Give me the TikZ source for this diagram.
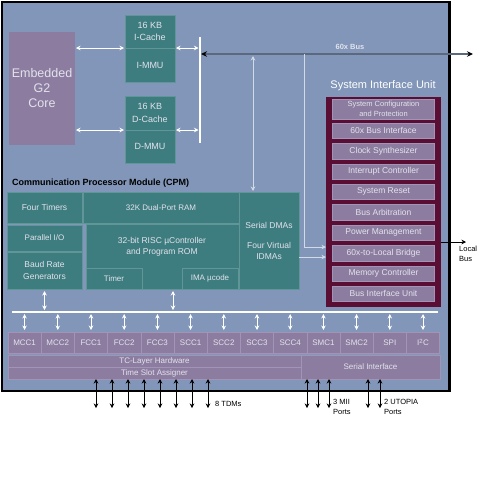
\documentclass[tikz,border=0pt]{standalone}
\usepackage{fontspec}
\setmainfont{Liberation Sans}
\usetikzlibrary{positioning,arrows.meta}
\definecolor{bgblue}{RGB}{129,150,184}
\definecolor{tealfill}{RGB}{62,125,127}
\definecolor{tealedge}{RGB}{96,150,152}
\definecolor{mauvefill}{RGB}{140,125,160}
\definecolor{mauveedge}{RGB}{162,148,182}
\definecolor{siured}{RGB}{90,14,52}
\definecolor{boxtext}{RGB}{226,226,236}
\definecolor{busgray}{RGB}{92,104,126}
\definecolor{pale}{RGB}{210,218,232}

\begin{document}
\begin{tikzpicture}[x=1pt,y=-1pt,>={Stealth[length=4.5pt,width=4.5pt]},
  blk/.style={anchor=north west,inner sep=0pt,outer sep=0pt,align=center,text=boxtext,font=\fontsize{8}{9.5}\selectfont},
  teal box/.style={blk,draw=tealedge,fill=tealfill},
  mauve box/.style={blk,draw=mauveedge,fill=mauvefill},
  siu item/.style={mauve box,anchor=north,minimum width=102,minimum height=15.4,font=\fontsize{8.5}{10}\selectfont},
  wire/.style={<->,white,line width=0.8pt},
  tdm/.style={<->,black,line width=0.6pt},
  note/.style={align=left,inner sep=0pt,font=\fontsize{7.5}{10}\selectfont}]
\fill[white] (0,0) rectangle (504,480);
\useasboundingbox (0,0) rectangle (504,480);
\draw[line width=2.5pt,fill=bgblue] (2,2) rectangle (449.5,391);

% core and caches
\node[mauve box,draw=none,minimum width=66,minimum height=113,font=\fontsize{12.5}{15}\selectfont] (core) at (9,32) {Embedded\\G2\\Core};
\node[teal box,minimum width=50,minimum height=33,font=\fontsize{9}{12.5}\selectfont] (ic) at (125,15) {16 KB\\I-Cache};
\node[teal box,minimum width=50,minimum height=34,font=\fontsize{9}{12}\selectfont] (im) at (125,48) {I-MMU};
\node[teal box,minimum width=50,minimum height=34,font=\fontsize{9}{12.5}\selectfont] (dc) at (125,96) {16 KB\\D-Cache};
\node[teal box,minimum width=50,minimum height=33,font=\fontsize{9}{12}\selectfont] (dm) at (125,130) {D-MMU};

\coordinate (bartop) at (200,37);
\coordinate (barbot) at (200,143);
\draw[white,line width=1.2pt] (bartop) -- (barbot);
\draw[wire,shorten <=1pt,shorten >=1pt] (core.east |- ic.south) -- (ic.south west);
\draw[wire,shorten <=1pt,shorten >=1.5pt] (ic.south east) -- (ic.south east -| bartop);
\draw[wire,shorten <=1pt,shorten >=1pt] (core.east |- dc.south) -- (dc.south west);
\draw[wire,shorten <=1pt,shorten >=1.5pt] (dc.south east) -- (dc.south east -| bartop);

% 60x bus
\coordinate (bus60) at (473,54);
\draw[{Stealth[black,length=6pt,width=5.5pt]}-{Stealth[black,length=6pt,width=5.5pt]},busgray,line width=1.5pt,shorten <=1pt] (bartop |- bus60) -- (bus60);
\node[font=\bfseries\fontsize{7.5}{9}\selectfont,text=boxtext] (buslbl) at (350,47) {60x Bus};

% system interface unit
\node[font=\fontsize{11}{13}\selectfont,text=white] (siulbl) at (383,86) {System Interface Unit};
\node[fill=siured,anchor=north west,minimum width=115,minimum height=210,inner sep=0pt,outer sep=0pt] (siu) at (326,97) {};
\node[siu item,minimum height=20,font=\fontsize{7.5}{9.5}\selectfont] (s1) at (383.5,99) {System Configuration\\and Protection};
\node[siu item] (s2) [below=4pt of s1] {60x Bus Interface};
\node[siu item] (s3) [below=5pt of s2] {Clock Synthesizer};
\node[siu item] (s4) [below=5pt of s3] {Interrupt Controller};
\node[siu item] (s5) [below=5pt of s4] {System Reset};
\node[siu item] (s6) [below=5pt of s5] {Bus Arbitration};
\node[siu item] (s7) [below=5pt of s6] {Power Management};
\node[siu item] (s8) [below=5pt of s7] {60x-to-Local Bridge};
\node[siu item] (s9) [below=5pt of s8] {Memory Controller};
\node[siu item] (s10) [below=5pt of s9] {Bus Interface Unit};

\coordinate (lbus) at (466,242);
\draw[->,black,line width=0.6pt] (siu.east |- lbus) -- (lbus);
\node[note,anchor=north west] (lbuslbl) at (459,246) {Local\\Bus};

% communication processor module
\node[anchor=west,inner sep=0pt,font=\bfseries\fontsize{9}{11}\selectfont] (cpm) at (12,183) {Communication Processor Module (CPM)};
\node[teal box,minimum width=75,minimum height=31,font=\fontsize{8.5}{10}\selectfont] (timers) at (7,192) {Four Timers};
\node[teal box,minimum width=75,minimum height=26] (pio) at (7,225) {Parallel I/O};
\node[teal box,minimum width=75,minimum height=37,font=\fontsize{8.5}{11.5}\selectfont] (brg) at (7,252) {Baud Rate\\Generators};
\node[teal box,minimum width=156,minimum height=31] (ram) at (83,192) {32K Dual-Port RAM};
\node[teal box,minimum width=153,minimum height=65] (risc) at (86,224) {};
\node[blk,anchor=center,font=\fontsize{8.5}{11}\selectfont] (risclbl) at (162,247) {32-bit RISC µController\\and Program ROM};
\node[teal box,minimum width=56,minimum height=21] (timer) at (86,268) {Timer};
\node[teal box,minimum width=56,minimum height=21] (ima) at (182,268) {IMA µcode};
\node[teal box,minimum width=60,minimum height=97,font=\fontsize{8.5}{11}\selectfont] (sdma) at (239,192) {Serial DMAs\\[9pt]Four Virtual\\IDMAs};

\coordinate (dmaup) at (253,54);
\draw[wire,pale,shorten <=2pt,shorten >=1pt] (dmaup) -- (dmaup |- sdma.north);
\coordinate (siutap) at (304,54);
\coordinate (br1) at ([yshift=6pt]s8.west -| siu.west);
\coordinate (br2) at ([yshift=-4pt]s8.west -| siu.west);
\draw[->,pale,line width=0.7pt] (siutap) |- (br1);
\draw[->,pale,line width=0.7pt] (sdma.east |- br2) -- (br2);

% peripheral bus
\coordinate (busL) at (12,312);
\coordinate (busR) at (438,312);
\draw[white,line width=1.2pt] (busL) -- (busR);
\coordinate (riscbus) at (173,312);
\draw[wire,shorten <=2pt,shorten >=2pt] (brg.south) -- (brg.south |- busL);
\draw[wire,shorten <=2pt,shorten >=2pt] (riscbus |- risc.south) -- (riscbus);

\foreach \p [count=\i from 0] in {MCC1,MCC2,FCC1,FCC2,FCC3,SCC1,SCC2,SCC3,SCC4,SMC1,SMC2,SPI,{I\textsuperscript{2}C}}
  \node[mauve box,minimum width=33.2,minimum height=21] (p\i) at (8+33.2*\i,332) {\p};
\foreach \i in {0,...,12}
  \draw[wire,shorten <=2pt,shorten >=2pt] (p\i.north |- busL) -- (p\i.north);

\node[mauve box,minimum width=293,minimum height=12.5] (tcl) at (8,355) {TC-Layer Hardware};
\node[mauve box,minimum width=293,minimum height=11.5] (tsa) at (8,367.5) {Time Slot Assigner};
\node[mauve box,minimum width=139,minimum height=24] (si) at (301,355) {Serial Interface};

% external ports
\foreach \x in {96,112,...,208} {
  \coordinate (t) at (\x,408);
  \draw[tdm] (tsa.south -| t) -- (t);
}
\foreach \x in {307,318,329,368,380} {
  \coordinate (t) at (\x,408);
  \draw[tdm] (si.south -| t) -- (t);
}
\node[note,anchor=west] (tdmlbl) at (215,404) {8 TDMs};
\node[note,anchor=north west] (miilbl) at (333,399) {3 MII\\Ports};
\node[note,anchor=north west] (utopialbl) at (384,399) {2 UTOPIA\\Ports};
\end{tikzpicture}
\end{document}
